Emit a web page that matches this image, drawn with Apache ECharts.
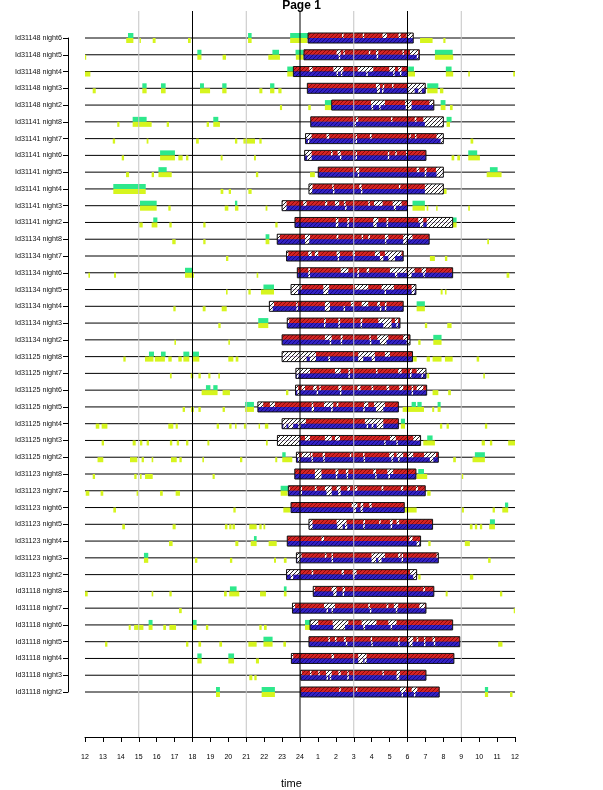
<!DOCTYPE html>
<html>
<head>
<meta charset="utf-8">
<script src="https://cdn.jsdelivr.net/npm/echarts/dist/echarts.min.js"></script>
<style>
html, body { margin: 0; padding: 0; background: #fff; }
#chart { width: 603px; height: 790px; }
</style>
</head>
<body>
<div id="chart"></div>
<script>
// actogram, one row per animal/night, time axis 12 -> 24 -> 12
var rowLabels = [
  'Id31148 night6', 'Id31148 night5', 'Id31148 night4', 'Id31148 night3', 'Id31148 night2',
  'Id31141 night8', 'Id31141 night7', 'Id31141 night6', 'Id31141 night5', 'Id31141 night4', 'Id31141 night3', 'Id31141 night2',
  'Id31134 night8', 'Id31134 night7', 'Id31134 night6', 'Id31134 night5', 'Id31134 night4', 'Id31134 night3', 'Id31134 night2',
  'Id31125 night8', 'Id31125 night7', 'Id31125 night6', 'Id31125 night5', 'Id31125 night4', 'Id31125 night3', 'Id31125 night2',
  'Id31123 night8', 'Id31123 night7', 'Id31123 night6', 'Id31123 night5', 'Id31123 night4', 'Id31123 night3', 'Id31123 night2',
  'Id31118 night8', 'Id31118 night7', 'Id31118 night6', 'Id31118 night5', 'Id31118 night4', 'Id31118 night3', 'Id31118 night2'
];

var hourLabels = ['12','13','14','15','16','17','18','19','20','21','22','23','24',
                  '1','2','3','4','5','6','7','8','9','10','11','12'];

// sleep bout (hours on the 12..36 scale)
var barStart = [24.45, 24.22, 23.63, 24.41, 25.77, 24.6, 24.31, 24.26, 25.02, 24.5, 23.0, 23.72,
  22.73, 23.25, 23.85, 23.5, 22.29, 23.29, 23.0, 23.0, 23.77, 23.75, 21.65, 23.0, 22.74, 23.8,
  23.71, 23.35, 23.5, 24.5, 23.29, 23.8, 23.25, 24.74, 23.58, 24.56, 24.5, 23.52, 24.04, 24.04];
var barEnd = [30.32, 30.66, 29.99, 30.99, 31.47, 32.0, 32.0, 31.03, 32.0, 32.0, 30.0, 32.52,
  31.21, 29.76, 32.52, 30.47, 29.76, 29.58, 30.14, 30.28, 31.03, 31.07, 29.49, 29.49, 30.73, 31.72,
  30.47, 30.99, 29.82, 31.4, 30.73, 31.72, 30.51, 31.47, 31.03, 32.52, 32.92, 32.59, 31.03, 31.77];

// wake gaps in upper (red) and lower (blue) band
var redGaps = [
  [[26.35,26.43],[27.5,27.58],[28.6,28.85],[29.5,29.62],[29.95,30.3]],
  [[26.04,26.27],[26.42,26.5],[27.84,27.92],[28.24,28.37],[29.72,29.8],[30.14,30.6]],
  [[24.52,24.7],[25.86,26.42],[27.22,28.09],[28.98,29.3],[29.48,29.67]],
  [[28.24,28.46],[28.62,28.7],[29.14,29.22],[30.0,30.97]],
  [[27.96,28.74],[29.86,30.23],[31.22,31.44]],
  [[27.12,27.25],[29.08,29.16],[30.4,30.5],[30.88,32.0]],
  [[24.31,24.65],[25.48,25.63],[27.1,27.18],[27.9,28.0],[30.1,30.18],[30.42,30.5],[31.62,32.0]],
  [[24.26,24.65],[25.73,25.82],[26.1,26.27],[27.1,27.18],[28.9,28.98],[29.32,29.4],[29.92,30.0]],
  [[27.12,27.31],[30.51,30.66],[30.96,31.07],[31.59,32.0]],
  [[24.5,24.7],[25.8,25.88],[27.31,27.44],[29.52,29.6],[30.97,32.0]],
  [[23.0,23.25],[24.18,24.37],[25.4,25.52],[25.95,26.19],[26.45,26.55],[27.81,27.9],[28.13,28.61],[29.17,29.67]],
  [[26.0,26.14],[26.64,26.75],[28.09,28.37],[28.83,28.93],[30.6,30.88],[31.07,32.52]],
  [[22.73,22.88],[24.28,24.56],[26.04,26.14],[27.44,27.52],[27.81,27.9],[28.74,28.93],[29.76,30.28]],
  [[23.25,23.35],[24.46,24.65],[24.83,25.02],[26.04,26.23],[26.94,27.07],[28.18,28.46],[28.74,29.67]],
  [[24.46,24.56],[26.27,26.7],[27.2,27.3],[27.72,27.86],[29.02,29.95],[30.0,30.4],[30.79,31.03]],
  [[23.5,24.09],[25.3,25.63],[27.07,27.81],[28.55,29.24],[30.23,30.47]],
  [[22.29,22.55],[23.79,23.87],[25.39,25.67],[26.84,27.0],[27.44,27.81],[28.31,28.46],[28.74,28.83]],
  [[23.29,23.4],[25.34,25.44],[26.14,26.24],[27.38,27.48],[28.37,29.11],[29.3,29.48]],
  [[25.39,25.77],[26.27,26.38],[27.87,27.95],[28.31,28.93],[29.76,30.04]],
  [[23.0,24.89],[27.25,28.18],[28.74,29.02]],
  [[23.77,24.56],[25.95,26.27],[26.7,26.8],[28.24,28.33],[29.48,29.67],[30.14,30.24],[30.51,31.03]],
  [[23.75,23.9],[24.09,24.28],[24.74,24.93],[25.08,25.16],[26.14,26.32],[27.2,27.38],[27.99,28.09],[28.83,28.98],[29.54,29.76],[30.23,30.32],[30.51,30.88]],
  [[21.65,21.95],[22.32,22.6],[24.65,24.74],[25.34,25.86],[26.04,26.14],[27.57,27.81],[28.13,28.74]],
  [[23.0,24.33],[27.62,28.65]],
  [[22.74,24.0],[24.28,24.56],[25.39,25.77],[25.95,26.23],[29.02,29.35],[30.32,30.69]],
  [[23.8,23.96],[24.09,24.56],[24.6,24.7],[25.26,25.39],[26.78,26.86],[27.52,27.6],[28.98,29.24],[29.39,29.76],[30.04,30.32],[30.92,31.59]],
  [[24.83,25.2],[25.98,26.14],[26.56,26.7],[28.09,28.24],[28.87,29.2]],
  [[23.35,23.4],[24.03,24.11],[24.83,24.93],[25.39,25.77],[26.04,26.27],[26.64,26.79],[27.07,27.2],[28.55,28.65],[29.63,29.76],[30.47,30.58]],
  [[26.88,27.2],[27.38,27.53],[27.87,28.0]],
  [[24.5,24.7],[26.04,26.6],[27.53,27.63],[28.42,28.5],[29.02,29.17],[29.39,29.54]],
  [[25.2,25.34],[30.1,30.28]],
  [[23.8,24.09],[25.39,25.48],[25.76,25.84],[27.99,28.74],[29.48,29.61],[29.67,29.75],[31.62,31.72]],
  [[23.25,24.0],[24.65,24.74],[26.32,26.45],[26.94,27.16],[30.14,30.51]],
  [[24.74,24.83],[25.76,26.04],[26.38,26.51],[30.88,30.97]],
  [[23.58,23.72],[25.34,25.95],[27.81,27.9],[28.83,28.93],[29.24,29.48],[30.66,30.97]],
  [[24.56,25.02],[25.82,26.7],[27.44,28.27],[28.93,29.39]],
  [[25.58,25.67],[25.95,26.04],[26.45,26.56],[27.94,28.02],[29.48,29.56],[30.04,30.32],[30.51,30.6],[30.92,31.0],[31.4,31.53]],
  [[23.53,23.62],[25.76,25.89],[27.25,27.72]],
  [[24.04,24.1],[24.56,24.64],[25.02,25.1],[25.45,25.77],[26.14,26.27],[26.64,26.72],[28.6,28.68],[29.39,29.58]],
  [[26.19,26.27],[27.12,27.2],[29.58,29.91],[30.23,30.55]]
];
var blueGaps = [
  [],
  [[26.16,26.24],[28.28,28.36],[30.52,30.6]],
  [[26.04,26.12],[26.28,26.36],[27.7,27.78],[29.2,29.28],[29.58,29.66]],
  [[28.3,28.46],[28.58,28.66],[30.04,30.4],[30.6,30.8]],
  [[27.98,28.08],[28.42,28.5],[29.9,30.23]],
  [[27.04,27.12],[30.97,32.0]],
  [[24.44,24.52],[27.1,27.18],[31.85,32.0]],
  [[24.4,24.65],[26.23,26.31],[27.1,27.18],[28.9,28.98]],
  [[27.22,27.3],[30.96,31.04],[31.62,32.0]],
  [[24.5,24.68],[25.84,25.92],[27.4,27.48],[30.97,32.0]],
  [[23.0,23.25],[26.52,26.6],[29.24,29.35]],
  [[26.0,26.14],[26.64,26.72],[28.09,28.28],[28.83,28.91],[30.7,30.88],[31.07,32.52]],
  [[24.28,24.52],[28.74,28.82],[29.76,29.95]],
  [[26.1,26.18],[28.46,28.65],[28.93,29.3]],
  [[24.46,24.56],[27.2,27.28],[29.3,29.43],[30.04,30.23],[30.88,30.96]],
  [[23.5,23.9],[25.3,25.58],[28.72,28.8],[30.23,30.4]],
  [[22.29,22.48],[23.8,23.88],[25.39,25.67],[26.43,26.51],[28.46,28.54],[28.74,28.82]],
  [[25.34,25.42],[26.14,26.22],[27.38,27.46],[28.65,29.11],[29.38,29.46]],
  [[25.66,25.74],[26.27,26.35],[27.9,27.98],[28.46,28.83],[29.95,30.14]],
  [[23.0,24.37],[24.55,24.89],[25.58,25.68],[27.25,27.53],[28.0,28.18]],
  [[23.82,23.92],[26.7,26.78],[30.14,30.22],[30.78,30.86]],
  [[23.85,23.96],[24.93,25.01],[26.23,26.31],[30.23,30.31]],
  [[24.65,24.78],[25.74,25.82],[27.53,27.61],[28.24,28.65]],
  [[23.07,23.25],[23.35,23.62],[23.9,24.03],[27.72,27.8],[28.0,28.1],[28.28,28.65]],
  [[22.74,23.96],[28.7,28.78],[29.38,29.46]],
  [[23.9,24.0],[24.64,24.72],[25.3,25.38],[27.55,27.63],[29.1,29.18],[29.48,29.56],[31.25,31.44]],
  [[24.83,25.2],[26.0,26.08],[26.6,26.68],[28.2,28.28],[28.93,29.02]],
  [[24.03,24.11],[25.48,25.77],[26.13,26.27]],
  [[27.0,27.12],[27.38,27.5]],
  [[24.52,24.7],[26.08,26.38],[26.51,26.64],[27.53,27.61],[29.06,29.14]],
  [[30.51,30.66]],
  [[23.85,24.0],[25.76,25.84],[27.99,28.24],[28.37,28.55],[29.67,29.75]],
  [[23.48,23.62],[26.96,27.04],[30.32,30.47]],
  [[25.86,26.04],[26.38,26.46]],
  [[25.48,25.56],[25.76,25.84],[27.9,27.98],[29.35,29.43]],
  [[25.86,26.51],[27.53,27.63],[29.06,29.14]],
  [[26.56,26.64],[27.98,28.06],[29.48,29.56],[30.1,30.28],[30.92,31.0],[31.47,31.55]],
  [[27.25,27.53],[27.6,27.72]],
  [[25.48,25.56],[25.66,25.74],[26.64,26.72],[29.39,29.54]],
  [[29.67,29.75],[30.36,30.44]]
];

// activity outside the bout: green above the line, yellow below
var greenBouts = [
  [[14.4,14.7],[21.1,21.3],[23.45,24.45]],
  [[18.27,18.5],[22.46,22.83],[23.75,24.2],[31.53,32.52]],
  [[23.29,23.63],[30.04,30.36],[32.14,32.46]],
  [[15.2,15.44],[16.24,16.5],[18.42,18.64],[19.66,19.9],[22.33,22.57],[31.1,31.72]],
  [[25.39,25.77],[31.85,32.12]],
  [[14.66,15.44],[19.16,19.44],[32.18,32.46]],
  [],
  [[16.19,17.02],[33.39,33.89]],
  [[16.1,16.56],[34.6,35.03]],
  [[13.58,15.39]],
  [[15.07,16.0],[20.37,20.5],[30.28,30.97]],
  [[15.81,16.04],[32.52,32.74]],
  [[22.08,22.29]],
  [],
  [[17.58,17.99]],
  [[21.96,22.55]],
  [[30.51,30.97]],
  [[21.67,22.23]],
  [[31.44,31.9]],
  [[15.57,15.85],[16.24,16.5],[17.49,17.82],[18.01,18.36]],
  [],
  [[18.75,19.0],[19.16,19.4]],
  [[20.93,21.43],[30.23,30.47],[30.55,30.79],[31.68,31.85]],
  [[29.63,29.86]],
  [[31.1,31.4]],
  [[23.01,23.2],[33.76,34.32]],
  [[30.6,30.92]],
  [[22.92,23.35]],
  [[35.44,35.62]],
  [[34.6,34.88]],
  [[21.43,21.58]],
  [[15.29,15.53]],
  [],
  [[20.09,20.46],[23.1,23.25]],
  [],
  [[15.55,15.77],[18.01,18.23],[24.28,24.56]],
  [[21.96,22.47]],
  [[18.27,18.51],[20.0,20.32]],
  [],
  [[19.31,19.53],[21.86,22.6],[34.32,34.5]]
];
var yellowBouts = [
  [[14.3,14.7],[15.04,15.12],[15.78,15.94],[17.75,17.9],[21.1,21.3],[23.45,24.4],[30.7,31.4],[32.0,32.12]],
  [[12.0,12.06],[18.27,18.5],[19.68,19.87],[22.23,22.88],[23.77,24.18],[31.53,32.55]],
  [[12.0,12.3],[23.29,23.6],[30.04,30.42],[32.14,32.55],[33.39,33.48],[35.9,36.0]],
  [[12.43,12.6],[15.2,15.44],[16.24,16.5],[18.42,18.98],[19.66,19.9],[21.73,21.9],[22.33,22.57],[22.79,22.97],[31.1,31.68],[31.81,32.0]],
  [[22.88,23.0],[24.46,24.6],[25.39,25.77],[31.85,32.12],[32.37,32.52]],
  [[13.8,13.92],[14.66,15.72],[16.56,16.69],[18.79,18.92],[19.16,19.53],[32.18,32.37]],
  [[13.55,13.68],[15.44,15.54],[18.2,18.35],[20.37,20.5],[20.84,21.49],[21.73,21.86],[33.52,33.67]],
  [[14.05,14.18],[16.19,17.02],[17.21,17.45],[17.64,17.77],[19.57,19.68],[21.43,21.54],[32.46,32.61],[32.78,32.93],[33.39,34.04]],
  [[14.29,14.46],[15.72,15.85],[16.1,16.84],[21.54,21.67],[24.56,24.83],[34.42,35.25]],
  [[13.58,15.39],[19.57,19.72],[20.02,20.15],[21.12,21.3],[32.03,32.18]],
  [[15.07,16.0],[16.65,16.78],[19.8,20.0],[20.37,20.56],[22.08,22.18],[30.28,30.97],[31.07,31.16],[31.6,31.68],[33.39,33.48]],
  [[15.03,15.22],[15.72,16.04],[16.71,16.84],[18.6,18.73],[22.62,22.75],[32.52,32.74]],
  [[16.87,17.06],[18.6,18.73],[22.08,22.29],[34.45,34.55]],
  [[19.87,20.0],[31.25,31.53],[32.09,32.22]],
  [[12.19,12.28],[13.62,13.73],[17.58,18.08],[21.58,21.67],[35.53,35.68]],
  [[19.87,19.96],[21.12,21.25],[21.82,22.55],[31.85,31.96],[32.09,32.18]],
  [[16.93,17.06],[18.57,18.73],[19.63,19.91],[30.51,30.97]],
  [[19.44,19.57],[21.67,22.23],[30.97,31.1],[32.22,32.46]],
  [[16.99,17.08],[20.0,20.09],[30.6,30.73],[31.44,31.9]],
  [[14.14,14.27],[15.35,15.82],[15.9,16.46],[16.65,16.84],[17.21,17.4],[17.49,17.82],[18.01,18.38],[20.0,20.28],[20.41,20.56],[30.32,30.51],[31.07,31.25],[31.4,31.9],[32.09,32.52],[33.86,34.0]],
  [[16.74,16.84],[17.9,18.05],[18.33,18.46],[18.88,19.0],[19.44,19.53],[31.1,31.21],[34.23,34.32]],
  [[18.51,19.4],[19.68,20.09],[23.22,23.35],[31.4,31.72],[32.27,32.42]],
  [[17.45,17.58],[17.92,18.08],[18.33,18.46],[19.68,19.81],[20.93,21.43],[29.73,30.92],[31.38,31.49],[31.68,31.85]],
  [[12.6,12.8],[12.93,13.25],[16.65,16.93],[17.06,17.18],[19.35,19.48],[20.05,20.18],[20.37,20.46],[20.87,21.02],[21.69,21.77],[22.04,22.23],[29.63,29.86],[31.81,31.94],[32.18,32.31],[34.32,34.45]],
  [[12.93,13.06],[14.66,14.83],[15.07,15.2],[15.44,15.57],[16.74,16.87],[17.12,17.25],[17.64,17.77],[18.83,18.94],[22.1,22.2],[30.88,31.53],[34.14,34.32],[34.6,34.73],[35.62,36.0]],
  [[12.7,13.02],[14.51,14.92],[15.16,15.29],[15.72,15.81],[16.8,17.12],[17.27,17.4],[18.55,18.64],[20.65,20.78],[22.62,22.73],[23.01,23.57],[32.55,32.7],[33.63,34.32]],
  [[12.43,12.56],[14.75,14.88],[15.07,15.16],[15.35,15.78],[19.12,19.24],[30.51,31.1],[33.02,33.11]],
  [[12.04,12.24],[12.87,13.02],[14.88,14.98],[16.19,16.34],[17.06,17.3],[22.92,23.3],[31.1,31.29]],
  [[13.58,13.73],[20.28,20.41],[23.07,23.44],[29.86,30.51],[33.02,33.15],[34.75,34.88],[35.29,35.62]],
  [[14.08,14.23],[16.89,17.06],[19.81,19.95],[20.05,20.18],[20.23,20.37],[21.17,21.58],[21.73,21.86],[21.96,22.06],[33.48,33.63],[33.76,33.89],[34.04,34.17],[34.56,34.88]],
  [[16.69,16.89],[20.39,20.56],[21.25,21.58],[22.25,22.7],[31.16,31.29],[33.2,33.48]],
  [[15.29,15.53],[18.14,18.27],[20.09,20.22],[22.55,22.66],[23.1,23.25],[34.5,34.64]],
  [[30.6,30.73],[33.48,33.67]],
  [[12.0,12.15],[15.72,15.81],[16.71,16.84],[19.76,19.91],[20.05,20.61],[21.77,22.1],[23.1,23.25],[32.13,32.24],[35.16,35.29]],
  [[17.25,17.4],[35.93,36.0]],
  [[14.44,14.55],[14.74,15.26],[15.55,15.77],[16.37,16.52],[16.71,17.08],[18.01,18.23],[18.75,18.88],[21.73,21.86],[21.99,22.14],[24.28,24.56]],
  [[13.12,13.25],[17.64,17.77],[18.33,18.48],[19.5,19.65],[21.12,21.58],[21.96,22.47],[23.07,23.22],[35.06,35.3]],
  [[18.27,18.51],[20.0,20.32],[21.54,21.71]],
  [[21.17,21.34],[21.45,21.58]],
  [[19.31,19.53],[21.86,22.6],[34.32,34.5],[35.72,35.86]]
];

var refLines = [15, 18, 21, 24, 27, 30, 33];

function hatch(bg, fg) {
  var n = 4;
  var c = document.createElement('canvas');
  c.width = n; c.height = n;
  var ctx = c.getContext('2d');
  ctx.fillStyle = bg;
  ctx.fillRect(0, 0, n, n);
  ctx.strokeStyle = fg;
  ctx.lineWidth = 1;
  ctx.beginPath();
  ctx.moveTo(0, n); ctx.lineTo(n, 0);
  ctx.moveTo(-1, 1); ctx.lineTo(1, -1);
  ctx.moveTo(n - 1, n + 1); ctx.lineTo(n + 1, n - 1);
  ctx.stroke();
  return { image: c, repeat: 'repeat' };
}

var redFill = hatch('#d42424', '#880a0a');
var blueFill = hatch('#3322c4', '#150880');
var gapFill = hatch('#ffffff', '#222222');
var GREEN = '#2ee88c';
var YELLOW = '#d6f51e';

function renderRow(params, api) {
  var i = params.dataIndex;
  var row = api.value(1);
  var a = api.coord([12, row]);
  var b = api.coord([36, row]);
  var y = a[1];
  var hh = 5;
  var kids = [];
  kids.push({ type: 'line', shape: { x1: a[0], y1: y, x2: b[0], y2: y },
    style: { stroke: '#000', lineWidth: 1 } });

  function span(s, e, top, fill) {
    var x0 = api.coord([s, row])[0];
    var x1 = api.coord([e, row])[0];
    return { type: 'rect',
      shape: { x: x0, y: top ? y - hh : y, width: Math.max(x1 - x0, 1.2), height: hh },
      style: { fill: fill } };
  }
  greenBouts[i].forEach(function (g) { kids.push(span(g[0], g[1], true, GREEN)); });
  yellowBouts[i].forEach(function (g) { kids.push(span(g[0], g[1], false, YELLOW)); });
  kids.push(span(barStart[i], barEnd[i], true, redFill));
  kids.push(span(barStart[i], barEnd[i], false, blueFill));
  redGaps[i].forEach(function (g) { kids.push(span(g[0], g[1], true, gapFill)); });
  blueGaps[i].forEach(function (g) { kids.push(span(g[0], g[1], false, gapFill)); });

  var s0 = api.coord([barStart[i], row])[0];
  var s1 = api.coord([barEnd[i], row])[0];
  kids.push({ type: 'rect', shape: { x: s0, y: y - hh, width: s1 - s0, height: 2 * hh },
    style: { fill: 'none', stroke: '#111', lineWidth: 1 } });
  return { type: 'group', children: kids };
}

function renderRef(params, api) {
  var x = api.value(0);
  var p0 = api.coord([x, 0]);
  var p1 = api.coord([x, 1]);
  return { type: 'line', shape: { x1: p0[0], y1: p0[1], x2: p1[0], y2: p1[1] },
    style: { stroke: x % 6 === 0 ? '#000' : '#c4c4c4', lineWidth: 1 } };
}

var myChart = echarts.init(document.getElementById('chart'));

var option = {
  animation: false,
  backgroundColor: '#fff',
  title: {
    text: 'Page 1', left: 'center', top: 0, padding: 0,
    textStyle: { fontFamily: 'Liberation Sans', fontSize: 12, fontWeight: 'bold', color: '#000' }
  },
  graphic: [{
    type: 'text', left: 281, top: 778,
    style: { text: 'time', fontFamily: 'Liberation Sans', fontSize: 11, fill: '#000' }
  }],
  grid: [
    { left: 85, right: 88, top: 38, bottom: 98, outerBoundsMode: 'none' },
    { left: 85, right: 88, top: 11, bottom: 53, outerBoundsMode: 'none' }
  ],
  xAxis: [
    { gridIndex: 0, type: 'value', min: 12, max: 36, show: false },
    {
      gridIndex: 1, type: 'value', min: 12, max: 36, interval: 1,
      axisLine: { show: true, lineStyle: { color: '#000', width: 1 } },
      axisTick: { show: true, length: 5, lineStyle: { color: '#000' } },
      axisLabel: {
        fontFamily: 'Liberation Sans', fontSize: 7, color: '#000', margin: 17,
        formatter: function (v) { return hourLabels[v - 12]; }
      },
      splitLine: { show: false }
    }
  ],
  yAxis: [
    {
      gridIndex: 0, type: 'value', min: 0, max: 39, interval: 1, inverse: true, offset: 17,
      axisLine: { show: true, lineStyle: { color: '#000', width: 1 } },
      axisTick: { show: true, length: 5, lineStyle: { color: '#000' } },
      axisLabel: {
        fontFamily: 'Liberation Sans', fontSize: 7.2, color: '#111', margin: 6,
        formatter: function (v) { return rowLabels[v]; }
      },
      splitLine: { show: false }
    },
    { gridIndex: 1, type: 'value', min: 0, max: 1, show: false }
  ],
  series: [
    {
      type: 'custom', xAxisIndex: 0, yAxisIndex: 0, z: 2,
      renderItem: renderRow,
      encode: { x: [0, 2], y: 1 },
      data: rowLabels.map(function (_, i) { return [barStart[i], i, barEnd[i]]; })
    },
    {
      type: 'custom', xAxisIndex: 1, yAxisIndex: 1, z: 5,
      renderItem: renderRef,
      encode: { x: 0 },
      data: refLines.map(function (v) { return [v]; })
    }
  ]
};

myChart.setOption(option);
</script>
</body>
</html>
